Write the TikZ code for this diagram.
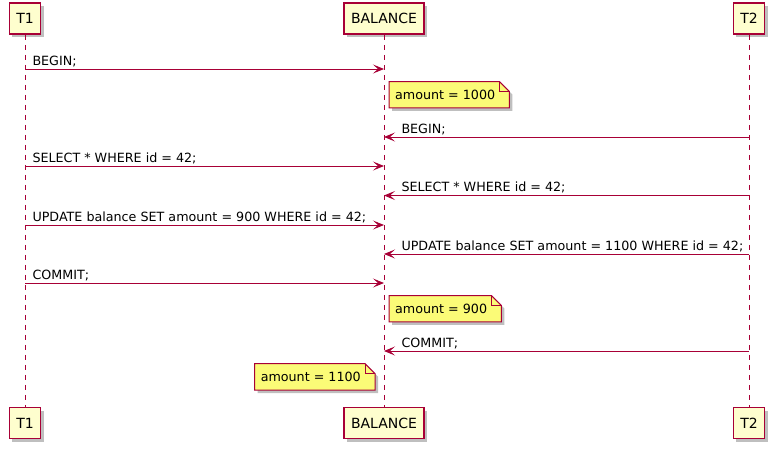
\documentclass[tikz,border=0pt]{standalone}
\usepackage{fontspec}
\setmainfont{DejaVu Sans}
\usetikzlibrary{arrows.meta,shadows,backgrounds,calc}

\definecolor{umlred}{HTML}{A80036}
\definecolor{umlbox}{HTML}{FEFECE}
\definecolor{umlnote}{HTML}{FBFB77}

\tikzset{
	umlshadow/.style={drop shadow={shadow xshift=3pt, shadow yshift=-3pt, opacity=0.25, fill=black}},
	actor/.style={draw=umlred, fill=umlbox, line width=1.5pt, minimum height=31pt, inner xsep=7pt, font=\fontsize{14pt}{16pt}\selectfont, umlshadow},
	lifeline/.style={umlred, line width=1pt, dash pattern=on 5pt off 5pt},
	msg/.style={umlred, line width=1pt, -{Stealth[length=11pt,width=9pt,inset=5pt]}},
	msgtext/.style={black, inner sep=0pt, anchor=base west, font=\fontsize{12.7pt}{15pt}\selectfont},
	notetext/.style={inner xsep=6pt, inner ysep=0pt, minimum height=26pt, font=\fontsize{12.7pt}{15pt}\selectfont},
	notebox/.style={draw=umlred, fill=umlnote, line width=1pt, umlshadow},
}

% dog-eared note drawn behind a note node
\newcommand\notefold[1]{%
	\begin{scope}[on background layer]
		\draw[notebox] (#1.south west) -- (#1.north west) -- ($(#1.north east)+(-2,0)$)
		-- ($(#1.north east)+(8,10)$) -- ($(#1.south east)+(8,0)$) -- cycle;
		\draw[umlred, line width=1pt] ($(#1.north east)+(-2,0)$) -- ++(0,10) -- ++(10,0);
	\end{scope}}

\begin{document}
\begin{tikzpicture}[x=1pt,y=-1pt]
	\useasboundingbox (0,0) rectangle (774,448);
	% participants
	\node[actor] (T1top) at (25,18.7) {T1};
	\node[actor] (BALtop) at (384,18.7) {BALANCE};
	\node[actor] (T2top) at (749,18.7) {T2};
	\node[actor] (T1bot) at (25,423) {T1};
	\node[actor] (BALbot) at (384,423) {BALANCE};
	\node[actor] (T2bot) at (749,423) {T2};
	\draw[lifeline] (T1top) -- (T1bot);
	\draw[lifeline] (BALtop) -- (BALbot);
	\draw[lifeline] (T2top) -- (T2bot);
	% messages
	\draw[msg] (T1top |- 0,69) -- (BALtop |- 0,69) node[msgtext, pos=0, xshift=7pt, yshift=4pt] (m1) {BEGIN;};
	\node[notetext, anchor=west] (n1) at (389,94.7) {amount = 1000};
	\notefold{n1}
	\draw[msg] (T2top |- 0,137) -- (BALtop |- 0,137) node[msgtext, pos=1, xshift=17pt, yshift=4pt] (m2) {BEGIN;};
	\draw[msg] (T1top |- 0,166) -- (BALtop |- 0,166) node[msgtext, pos=0, xshift=7pt, yshift=4pt] (m3) {SELECT * WHERE id = 42;};
	\draw[msg] (T2top |- 0,195.5) -- (BALtop |- 0,195.5) node[msgtext, pos=1, xshift=17pt, yshift=4pt] (m4) {SELECT * WHERE id = 42;};
	\draw[msg] (T1top |- 0,225) -- (BALtop |- 0,225) node[msgtext, pos=0, xshift=7pt, yshift=4pt] (m5) {UPDATE balance SET amount = 900 WHERE id = 42;};
	\draw[msg] (T2top |- 0,254) -- (BALtop |- 0,254) node[msgtext, pos=1, xshift=17pt, yshift=4pt] (m6) {UPDATE balance SET amount = 1100 WHERE id = 42;};
	\draw[msg] (T1top |- 0,283) -- (BALtop |- 0,283) node[msgtext, pos=0, xshift=7pt, yshift=4pt] (m7) {COMMIT;};
	\node[notetext, anchor=west] (n2) at (389,308.7) {amount = 900};
	\notefold{n2}
	\draw[msg] (T2top |- 0,351) -- (BALtop |- 0,351) node[msgtext, pos=1, xshift=17pt, yshift=4pt] (m8) {COMMIT;};
	\node[notetext, anchor=east] (n3) at (367,376.8) {amount = 1100};
	\notefold{n3}
\end{tikzpicture}
\end{document}
